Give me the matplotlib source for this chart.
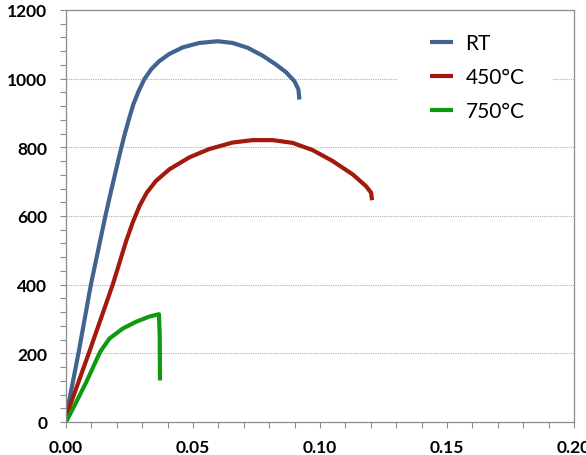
import matplotlib
matplotlib.use("Agg")
import matplotlib.pyplot as plt
from matplotlib.patches import Rectangle
from matplotlib.ticker import MultipleLocator, FormatStrFormatter

# Data (strain, stress)
rt_strain = [0.0, 0.0049, 0.0098, 0.0155, 0.0175, 0.0195, 0.0213, 0.0230, 0.0247, 0.0265,
             0.0285, 0.0308, 0.0335, 0.0367, 0.0407, 0.0459, 0.0525, 0.0597, 0.0656, 0.0715,
             0.0774, 0.0827, 0.0866, 0.0899, 0.0915, 0.0919]
rt_stress = [15, 200, 400, 600, 665, 728, 785, 835, 880, 925,
             962, 998, 1027, 1051, 1072, 1091, 1104, 1109, 1104, 1090,
             1067, 1041, 1019, 993, 969, 939]

t450_strain = [0.0, 0.0092, 0.0184, 0.0236, 0.0262, 0.0290, 0.0318, 0.0354, 0.0407, 0.0486,
               0.0564, 0.0656, 0.0735, 0.0814, 0.0892, 0.0971, 0.105, 0.1129, 0.1181, 0.1201,
               0.1205]
t450_stress = [15, 205, 400, 525, 580, 630, 668, 702, 736, 771,
               795, 814, 821, 821, 813, 792, 760, 721, 687, 668,
               646]

t750_strain = [0.0, 0.0039, 0.0079, 0.0118, 0.0135, 0.0171, 0.0223, 0.0276, 0.0328, 0.0366,
               0.0369, 0.0370]
t750_stress = [0, 56, 115, 178, 205, 243, 272, 292, 307, 314,
               250, 121]

labels = ["RT", "450°C", "750°C"]
colors = ["#41648F", "#A3190B", "#0E9A10"]

W, H = 586, 456
fig = plt.figure(figsize=(W / 100, H / 100), dpi=100)
ax = fig.add_axes([66 / W, 33 / H, 508 / W, 412 / H])

lw = 3.0
for xs, ys, c, lab in [(rt_strain, rt_stress, colors[0], labels[0]),
                       (t450_strain, t450_stress, colors[1], labels[1]),
                       (t750_strain, t750_stress, colors[2], labels[2])]:
    ax.plot(xs, ys, color=c, lw=lw, label=lab, solid_capstyle="butt", solid_joinstyle="round")

ax.set_xlim(0, 0.20)
ax.set_ylim(0, 1200)
ax.xaxis.set_major_locator(MultipleLocator(0.05))
ax.xaxis.set_minor_locator(MultipleLocator(0.01))
ax.yaxis.set_major_locator(MultipleLocator(200))
ax.yaxis.set_minor_locator(MultipleLocator(40))
ax.xaxis.set_major_formatter(FormatStrFormatter("%.2f"))
ax.yaxis.set_major_formatter(FormatStrFormatter("%d"))

ax.yaxis.grid(True, which="major", color="#B0B0B0", linestyle=(0, (1, 1)), linewidth=0.8)
ax.set_axisbelow(True)

for s in ax.spines.values():
    s.set_color("#8C8C8C")
    s.set_linewidth(0.9)

ax.tick_params(axis="both", which="both", direction="out", length=4, width=0.8, color="#8C8C8C")
ax.tick_params(axis="y", which="major", labelsize=12.5, pad=9.5)
ax.tick_params(axis="x", which="major", labelsize=12.5, pad=8)
for lab in ax.get_xticklabels() + ax.get_yticklabels():
    lab.set_fontfamily("Lato")
    lab.set_fontweight("bold")

# white legend background that interrupts the 1000 gridline
ax.add_patch(Rectangle(((397 - 66) / 508, (423 - 86) / 412), (553 - 397) / 508, 12 / 412,
                       transform=ax.transAxes, facecolor="white", edgecolor="none", zorder=1.5))

leg = ax.legend(loc="upper left", bbox_to_anchor=((430 - 66) / 508, (423 - 34) / 412),
                frameon=False, prop={"family": "Lato", "size": 15}, handlelength=1.1,
                handletextpad=0.6, labelspacing=0.68, borderpad=0, borderaxespad=0)

fig.savefig("out.png", dpi=100)
